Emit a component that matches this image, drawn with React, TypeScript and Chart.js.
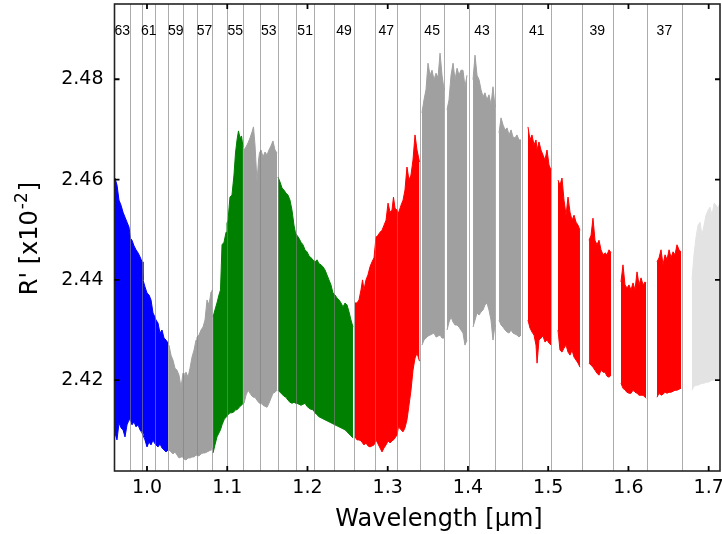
import { useEffect, useRef } from 'react';
import { Chart, registerables } from 'chart.js';

Chart.register(...registerables);

// ---------- axes ----------
const xRange = [0.9595, 1.7141];
const yRange = [2.4019, 2.495];
const xTicks = [1.0, 1.1, 1.2, 1.3, 1.4, 1.5, 1.6, 1.7];
const yTicks = [2.42, 2.44, 2.46, 2.48];
const xAxisTitle = 'Wavelength [μm]';
const yAxisTitleMain = "R' [x10";
const yAxisTitleSup = '-2';
const yAxisTitleEnd = ']';

// ---------- echelle orders ----------
const orderNumbers = [63, 62, 61, 60, 59, 58, 57, 56, 55, 54, 53, 52, 51, 50, 49, 48, 47, 46, 45, 44, 43, 42, 41, 40, 39, 38, 37, 36];
const orderEdges = [0.9788, 0.9942, 1.01, 1.0266, 1.0452, 1.0619, 1.0814, 1.1001, 1.12, 1.1408, 1.1629, 1.1857, 1.2085, 1.2331, 1.258, 1.2842, 1.312, 1.3402, 1.3705, 1.4009, 1.4341, 1.4674, 1.5039, 1.5418, 1.5804, 1.6228, 1.6668];
const orderGroup = ['blue', 'blue', 'blue', 'blue', 'gray', 'gray', 'gray', 'green', 'green', 'gray', 'gray', 'green', 'green', 'green', 'green', 'red', 'red', 'red', 'gray', 'gray', 'gray', 'gray', 'red', 'red', 'red', 'red', 'red', 'light'];
const groupColors: Record<string, string> = { blue: '#0000ff', gray: '#a0a0a0', green: '#008000', red: '#ff0000', light: '#e3e3e3' };
const labeledOrders = [63, 61, 59, 57, 55, 53, 51, 49, 47, 45, 43, 41, 39, 37];
const orderLabelLevel = 2.4895;
const maxSampleGap = 0.0035;

// ---------- spectrum envelope (upper / lower of the noisy band) ----------
const wavelength = [
  0.9601, 0.9626, 0.9651, 0.9676, 0.9701, 0.9726, 0.9751, 0.9776,
  0.9794, 0.9813, 0.9838, 0.9863, 0.9888, 0.9913, 0.9938,
  0.995, 0.9975, 1.0, 1.0025, 1.005, 1.0075, 1.0093,
  1.0112, 1.0137, 1.0162, 1.0187, 1.0212, 1.0237, 1.0262,
  1.0274, 1.0299, 1.0324, 1.0349, 1.0374, 1.0399, 1.0424, 1.0449,
  1.0461, 1.0486, 1.0511, 1.0536, 1.0561, 1.0586, 1.0611,
  1.0623, 1.0648, 1.0673, 1.0698, 1.0723, 1.0748, 1.0773, 1.0798, 1.081,
  1.0823, 1.0847, 1.0872, 1.0897, 1.0916, 1.0935, 1.096, 1.0985, 1.0997,
  1.101, 1.1034, 1.1059, 1.1084, 1.1103, 1.1122, 1.114, 1.1159, 1.1178, 1.1196,
  1.1209, 1.1234, 1.1259, 1.1284, 1.1309, 1.1327, 1.1346, 1.1371, 1.139, 1.1402,
  1.1421, 1.1446, 1.1471, 1.1496, 1.152, 1.1545, 1.157, 1.1595, 1.162,
  1.1633, 1.1658, 1.1683, 1.1707, 1.1732, 1.1757, 1.1782, 1.1807, 1.1832, 1.1851,
  1.1869, 1.1894, 1.1919, 1.1944, 1.1969, 1.1994, 1.2019, 1.2044, 1.2069,
  1.2094, 1.2119, 1.2144, 1.2169, 1.2193, 1.2218, 1.2243, 1.2268, 1.2293, 1.2318,
  1.2343, 1.2368, 1.2393, 1.2418, 1.2443, 1.2468, 1.2493, 1.2518, 1.2542, 1.2567,
  1.2592, 1.2617, 1.2642, 1.2667, 1.2686, 1.2704, 1.2729, 1.2754, 1.2779, 1.2804, 1.2829,
  1.2854, 1.2879, 1.2904, 1.2929, 1.2954, 1.2979, 1.3004, 1.3029, 1.3053, 1.3072, 1.3091, 1.3116,
  1.3134, 1.3166, 1.3191, 1.3215, 1.324, 1.3265, 1.329, 1.3315, 1.334, 1.3365, 1.3396,
  1.3427, 1.3452, 1.3477, 1.3502, 1.3527, 1.3552, 1.3577, 1.3602, 1.3627, 1.3652, 1.3677, 1.3702,
  1.3739, 1.3764, 1.3789, 1.3814, 1.3839, 1.3864, 1.3888, 1.3913, 1.3938, 1.3963, 1.3988,
  1.4063, 1.4088, 1.4113, 1.4138, 1.4163, 1.4188, 1.4212, 1.4237, 1.4262, 1.4287, 1.4312, 1.4337,
  1.4387, 1.4412, 1.4437, 1.4462, 1.4487, 1.4512, 1.4537, 1.4561, 1.4586, 1.4611, 1.4636, 1.4661,
  1.4748, 1.4773, 1.4798, 1.4823, 1.4848, 1.4861, 1.4885, 1.491, 1.4935, 1.496, 1.4985, 1.501, 1.5035,
  1.5122, 1.5147, 1.5172, 1.5197, 1.5222, 1.5247, 1.5272, 1.5297, 1.5322, 1.5347, 1.5372, 1.5396,
  1.5509, 1.5534, 1.5558, 1.5583, 1.5608, 1.5633, 1.5658, 1.5683, 1.5708, 1.5733, 1.5758, 1.5783,
  1.5907, 1.5932, 1.5957, 1.5982, 1.6007, 1.6032, 1.6057, 1.6082, 1.6107, 1.6132, 1.6157, 1.6182, 1.6207, 1.6219,
  1.6356, 1.6381, 1.6406, 1.6431, 1.6456, 1.6481, 1.6506, 1.6531, 1.6556, 1.658, 1.6605, 1.663, 1.6655,
  1.6792, 1.6817, 1.6842, 1.6867, 1.6892, 1.6917, 1.6942, 1.6967, 1.6992, 1.7017, 1.7042, 1.7067, 1.7091, 1.7116, 1.7141,
];
const upperEnv = [
  2.4603, 2.4589, 2.4559, 2.4549, 2.4535, 2.4525, 2.4515, 2.4505,
  2.4483, 2.4479, 2.4468, 2.446, 2.4454, 2.4446, 2.4436,
  2.44, 2.4386, 2.4374, 2.437, 2.436, 2.4334, 2.4328,
  2.432, 2.4314, 2.4294, 2.43, 2.4284, 2.428, 2.4274,
  2.427, 2.425, 2.424, 2.4224, 2.422, 2.421, 2.4186, 2.4214,
  2.4204, 2.4216, 2.4206, 2.4224, 2.4246, 2.426, 2.428,
  2.4286, 2.429, 2.43, 2.4306, 2.432, 2.436, 2.435, 2.4376, 2.438,
  2.4326, 2.434, 2.4354, 2.437, 2.438, 2.447, 2.4475, 2.4495, 2.4513,
  2.4519, 2.4565, 2.4569, 2.4609, 2.4653, 2.4679, 2.4697, 2.4683, 2.4687, 2.4665,
  2.4659, 2.4665, 2.4673, 2.4683, 2.4695, 2.4705, 2.4669, 2.4595, 2.4639, 2.4653,
  2.4659, 2.4645, 2.4655, 2.4649, 2.4659, 2.4667, 2.4677, 2.4659, 2.4653,
  2.4605, 2.4595, 2.4583, 2.4579, 2.4573, 2.4569, 2.4559, 2.4539, 2.4509, 2.4493,
  2.4489, 2.4483, 2.4475, 2.447, 2.446, 2.4456, 2.4448, 2.4444, 2.444,
  2.4436, 2.444, 2.4432, 2.443, 2.4426, 2.442, 2.441, 2.44, 2.439, 2.4374,
  2.437, 2.4364, 2.436, 2.4354, 2.4346, 2.4354, 2.435, 2.4336, 2.432, 2.4306,
  2.4354, 2.4354, 2.436, 2.438, 2.44, 2.438, 2.44, 2.441, 2.4426, 2.4436, 2.4444,
  2.4485, 2.4489, 2.4495, 2.4499, 2.4509, 2.4519, 2.4553, 2.4535, 2.4539, 2.4565, 2.4543, 2.4539,
  2.4533, 2.4549, 2.4559, 2.4579, 2.4625, 2.4599, 2.4609, 2.4639, 2.4689, 2.4659, 2.4635,
  2.4733, 2.4759, 2.4779, 2.4832, 2.4808, 2.4818, 2.4799, 2.4812, 2.4803, 2.4852, 2.4808, 2.4779,
  2.4739, 2.4759, 2.4808, 2.4832, 2.4799, 2.4822, 2.4808, 2.4818, 2.4818, 2.4785, 2.4808,
  2.4799, 2.4848, 2.4808, 2.4799, 2.4779, 2.4765, 2.4773, 2.4759, 2.4769, 2.4749, 2.4785, 2.4745,
  2.4693, 2.4723, 2.4709, 2.4699, 2.4703, 2.4689, 2.4699, 2.4685, 2.4683, 2.4689, 2.4679, 2.4679,
  2.4705, 2.4679, 2.4689, 2.4669, 2.4679, 2.4659, 2.4675, 2.4659, 2.4649, 2.4639, 2.4659, 2.4629, 2.4619,
  2.4599, 2.4589, 2.4603, 2.4559, 2.4529, 2.4565, 2.4535, 2.4519, 2.4529, 2.4515, 2.4509, 2.4499,
  2.4479, 2.4489, 2.4523, 2.4479, 2.447, 2.4479, 2.446, 2.445, 2.4454, 2.445, 2.446, 2.4454,
  2.4396, 2.443, 2.439, 2.4384, 2.439, 2.438, 2.4394, 2.438, 2.4416, 2.439, 2.4404, 2.439, 2.4396, 2.4394,
  2.4436, 2.4444, 2.446, 2.443, 2.445, 2.444, 2.446, 2.4444, 2.4456, 2.445, 2.447, 2.446, 2.4456,
  2.44, 2.445, 2.4485, 2.4509, 2.4515, 2.4489, 2.4509, 2.4529, 2.4539, 2.4545, 2.4529, 2.4553, 2.4549, 2.4543, 2.4553,
];
const lowerEnv = [
  2.4095, 2.4081, 2.4115, 2.4105, 2.4101, 2.4087, 2.4111, 2.4121,
  2.4121, 2.4111, 2.4117, 2.4107, 2.4111, 2.4101, 2.4095,
  2.4095, 2.4081, 2.4067, 2.4077, 2.4071, 2.4081, 2.4075,
  2.4071, 2.4067, 2.4073, 2.4065, 2.4061, 2.4057, 2.4061,
  2.4061, 2.4057, 2.4053, 2.4057, 2.4051, 2.4045, 2.4047, 2.4047,
  2.4043, 2.4041, 2.4045, 2.4045, 2.4047, 2.4047, 2.4051,
  2.4051, 2.4049, 2.4053, 2.4055, 2.4055, 2.4057, 2.4059, 2.4061, 2.4065,
  2.4055, 2.4071, 2.4087, 2.4095, 2.4101, 2.4111, 2.4121, 2.4127, 2.4129,
  2.4131, 2.4135, 2.4135, 2.4137, 2.4141, 2.4141, 2.4144, 2.4148, 2.415, 2.4154,
  2.4154, 2.417, 2.418, 2.4174, 2.4168, 2.4166, 2.4166, 2.416, 2.4156, 2.4154,
  2.4154, 2.415, 2.4148, 2.4146, 2.4154, 2.4164, 2.4174, 2.4176, 2.418,
  2.418, 2.4176, 2.4172, 2.4168, 2.4166, 2.416, 2.4156, 2.4154, 2.4156, 2.4154,
  2.4154, 2.4152, 2.415, 2.4152, 2.4154, 2.4148, 2.4144, 2.4142, 2.4141,
  2.4135, 2.4131, 2.4127, 2.4125, 2.4123, 2.4121, 2.4119, 2.4117, 2.4115, 2.4113,
  2.4111, 2.4109, 2.4107, 2.4105, 2.4103, 2.4101, 2.4097, 2.4093, 2.4089, 2.4085,
  2.4087, 2.4081, 2.4081, 2.4079, 2.4075, 2.4071, 2.4075, 2.4069, 2.4067, 2.4069, 2.4071,
  2.4081, 2.4073, 2.4065, 2.4057, 2.4065, 2.4071, 2.4079, 2.4075, 2.4079, 2.4081, 2.4085, 2.4091,
  2.4107, 2.4101, 2.4097, 2.4105, 2.4121, 2.415, 2.418, 2.422, 2.4244, 2.4254, 2.4238,
  2.427, 2.428, 2.4284, 2.4288, 2.429, 2.4292, 2.4294, 2.4286, 2.4288, 2.429, 2.4284, 2.4284,
  2.43, 2.4316, 2.4326, 2.4316, 2.431, 2.431, 2.4306, 2.43, 2.4294, 2.427, 2.428,
  2.4306, 2.432, 2.4334, 2.433, 2.4336, 2.434, 2.435, 2.4354, 2.434, 2.432, 2.428, 2.431,
  2.432, 2.431, 2.4306, 2.43, 2.4296, 2.4294, 2.43, 2.4294, 2.4292, 2.429, 2.4286, 2.429,
  2.432, 2.4304, 2.4296, 2.429, 2.427, 2.4234, 2.428, 2.4284, 2.4288, 2.4276, 2.428, 2.4274, 2.427,
  2.43, 2.426, 2.4256, 2.4264, 2.427, 2.4256, 2.425, 2.426, 2.4246, 2.424, 2.4234, 2.4226,
  2.4234, 2.423, 2.4226, 2.422, 2.4214, 2.421, 2.422, 2.4216, 2.4216, 2.4208, 2.4206, 2.421,
  2.4194, 2.4184, 2.418, 2.4176, 2.4174, 2.4174, 2.418, 2.4176, 2.4174, 2.417, 2.417, 2.417, 2.4166, 2.4164,
  2.4166, 2.4174, 2.417, 2.4172, 2.4176, 2.4174, 2.4176, 2.4176, 2.4178, 2.418, 2.418, 2.4182, 2.4184,
  2.418, 2.4188, 2.419, 2.419, 2.4192, 2.4194, 2.4194, 2.4196, 2.4196, 2.4198, 2.42, 2.42, 2.4202, 2.4204, 2.4204,
];

const FONT = '"DejaVu Sans", Verdana, sans-serif';

function buildDatasets() {
  const bounds = [xRange[0], ...orderEdges, xRange[1] + 1];
  const n = Math.min(wavelength.length, upperEnv.length, lowerEnv.length);
  const orderOf = (w: number) => {
    for (let i = 0; i < orderNumbers.length; i++) if (w >= bounds[i] && w < bounds[i + 1]) return i;
    return -1;
  };
  // contiguous blocks: same colour group and no sampling gap
  const blocks: { color: string; idx: number[] }[] = [];
  let cur: { color: string; idx: number[] } | null = null;
  for (let k = 0; k < n; k++) {
    const oi = orderOf(wavelength[k]);
    if (oi < 0) continue;
    const color = groupColors[orderGroup[oi]];
    const prev = cur && cur.idx.length ? cur.idx[cur.idx.length - 1] : -1;
    if (!cur || cur.color !== color || (prev >= 0 && wavelength[k] - wavelength[prev] > maxSampleGap)) {
      cur = { color, idx: [] };
      blocks.push(cur);
    }
    cur.idx.push(k);
  }
  const datasets: any[] = [];
  blocks.forEach((b, bi) => {
    datasets.push({
      label: `block ${bi} upper`,
      data: b.idx.map((k) => ({ x: wavelength[k], y: upperEnv[k] })),
      borderColor: b.color,
      backgroundColor: b.color,
      borderWidth: 1,
      pointRadius: 0,
      tension: 0,
      fill: '+1',
    });
    datasets.push({
      label: `block ${bi} lower`,
      data: b.idx.map((k) => ({ x: wavelength[k], y: lowerEnv[k] })),
      borderColor: b.color,
      backgroundColor: b.color,
      borderWidth: 1,
      pointRadius: 0,
      tension: 0,
      fill: false,
    });
  });
  return datasets;
}

const decorPlugin = {
  id: 'decor',
  afterDraw(chart: any) {
    const { ctx, chartArea: a, scales } = chart;
    const xs = scales.x;
    const ys = scales.y;
    ctx.save();

    // order boundary lines
    ctx.strokeStyle = 'rgba(128,128,128,0.65)';
    ctx.lineWidth = 1;
    ctx.beginPath();
    orderEdges.forEach((e) => {
      const px = Math.round(xs.getPixelForValue(e)) + 0.5;
      ctx.moveTo(px, a.top);
      ctx.lineTo(px, a.bottom);
    });
    ctx.stroke();

    // order labels
    const bounds = [xRange[0], ...orderEdges, xRange[1]];
    ctx.fillStyle = '#000';
    ctx.font = '14px "Liberation Sans", Arial, sans-serif';
    ctx.textAlign = 'center';
    ctx.textBaseline = 'middle';
    orderNumbers.forEach((m, i) => {
      if (!labeledOrders.includes(m)) return;
      const c = (bounds[i] + bounds[i + 1]) / 2;
      ctx.fillText(String(m), xs.getPixelForValue(c), ys.getPixelForValue(orderLabelLevel));
    });

    // frame
    ctx.strokeStyle = '#222';
    ctx.lineWidth = 1.6;
    ctx.strokeRect(a.left, a.top, a.right - a.left, a.bottom - a.top);

    // inward ticks on all sides
    ctx.strokeStyle = '#000';
    ctx.lineWidth = 1.8;
    ctx.beginPath();
    xTicks.forEach((v) => {
      const px = xs.getPixelForValue(v);
      ctx.moveTo(px, a.bottom);
      ctx.lineTo(px, a.bottom - 5);
      ctx.moveTo(px, a.top);
      ctx.lineTo(px, a.top + 5);
    });
    yTicks.forEach((v) => {
      const py = ys.getPixelForValue(v);
      ctx.moveTo(a.left, py);
      ctx.lineTo(a.left + 5, py);
      ctx.moveTo(a.right, py);
      ctx.lineTo(a.right - 5, py);
    });
    ctx.stroke();

    // x axis title
    ctx.fillStyle = '#000';
    ctx.font = `24px ${FONT}`;
    ctx.textAlign = 'center';
    ctx.textBaseline = 'alphabetic';
    ctx.fillText(xAxisTitle, 439, 526);

    // y axis title with superscript
    ctx.save();
    ctx.translate(37, (a.top + a.bottom) / 2 + 2);
    ctx.rotate(-Math.PI / 2);
    const big = `24px ${FONT}`;
    const small = `17px ${FONT}`;
    ctx.font = big;
    const w1 = ctx.measureText(yAxisTitleMain).width;
    const w3 = ctx.measureText(yAxisTitleEnd).width;
    ctx.font = small;
    const w2 = ctx.measureText(yAxisTitleSup).width;
    const x0 = -(w1 + w2 + w3) / 2;
    ctx.textAlign = 'left';
    ctx.font = big;
    ctx.fillText(yAxisTitleMain, x0, 0);
    ctx.font = small;
    ctx.fillText(yAxisTitleSup, x0 + w1 + 1, -10);
    ctx.font = big;
    ctx.fillText(yAxisTitleEnd, x0 + w1 + w2 + 2, 0);
    ctx.restore();

    ctx.restore();
  },
};

const zeroPadding = (s: any) => {
  s.paddingLeft = 0;
  s.paddingRight = 0;
  s.paddingTop = 0;
  s.paddingBottom = 0;
};

export default function App() {
  const ref = useRef<HTMLCanvasElement | null>(null);
  useEffect(() => {
    if (!ref.current) return;
    const chart = new Chart(ref.current, {
      type: 'line',
      data: { datasets: buildDatasets() },
      options: {
        animation: false,
        responsive: false,
        devicePixelRatio: 1,
        events: [],
        layout: { padding: { left: 0, top: 4, right: 2, bottom: 0 } },
        plugins: { legend: { display: false }, tooltip: { enabled: false } },
        scales: {
          x: {
            type: 'linear',
            min: xRange[0],
            max: xRange[1],
            grid: { display: false, drawTicks: false },
            border: { display: false },
            afterBuildTicks: (s: any) => {
              s.ticks = xTicks.map((v) => ({ value: v }));
            },
            afterFit: (s: any) => {
              s.height = 63;
              zeroPadding(s);
            },
            ticks: {
              autoSkip: false,
              maxRotation: 0,
              padding: 6,
              color: '#000',
              font: { family: FONT, size: 19 },
              callback: (v: any) => Number(v).toFixed(1),
            },
          },
          y: {
            type: 'linear',
            min: yRange[0],
            max: yRange[1],
            grid: { display: false, drawTicks: false },
            border: { display: false },
            afterBuildTicks: (s: any) => {
              s.ticks = yTicks.map((v) => ({ value: v }));
            },
            afterFit: (s: any) => {
              s.width = 114.5;
              zeroPadding(s);
            },
            ticks: {
              padding: 11,
              color: '#000',
              font: { family: FONT, size: 19 },
              callback: (v: any) => Number(v).toFixed(2),
            },
          },
        },
      },
      plugins: [decorPlugin],
    } as any);
    return () => chart.destroy();
  }, []);
  return (
    <div style={{ position: 'absolute', left: 0, top: 0, width: 722, height: 534, background: '#fff' }}>
      <canvas ref={ref} width={722} height={534} style={{ display: 'block', width: 722, height: 534 }} />
    </div>
  );
}
